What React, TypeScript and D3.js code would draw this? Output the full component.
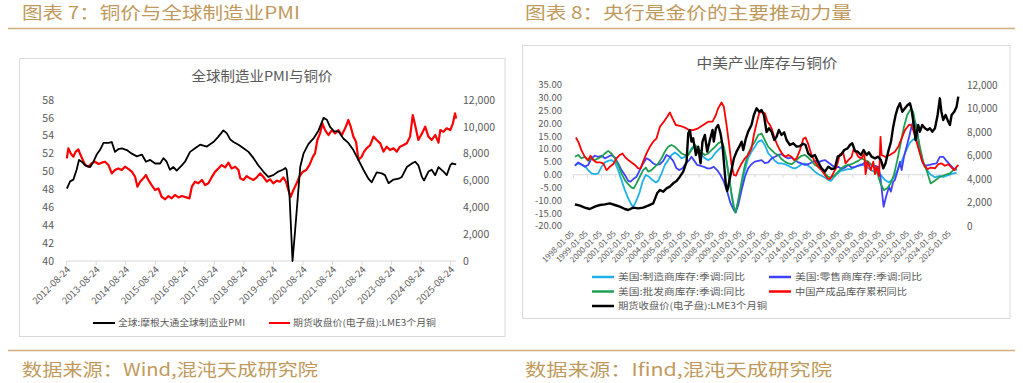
import React from "react";
import * as d3 from "d3";

// ---------- Chart 7 data (left) ----------
const leftTickLabels = ["2012-08-24","2013-08-24","2014-08-24","2015-08-24","2016-08-24","2017-08-24","2018-08-24","2019-08-24","2020-08-24","2021-08-24","2022-08-24","2023-08-24","2024-08-24","2025-08-24"];
const pmiTicks = [40,42,44,46,48,50,52,54,56,58];
const cuTicksL = [0,2000,4000,6000,8000,10000,12000];

const pmiYears = [2012.65,2012.76,2012.87,2012.98,2013.06,2013.15,2013.27,2013.44,2013.55,2013.66,2013.77,2013.89,2014.06,2014.17,2014.28,2014.39,2014.51,2014.68,2014.85,2015.02,2015.19,2015.33,2015.47,2015.64,2015.81,2015.92,2016.03,2016.14,2016.26,2016.37,2016.54,2016.65,2016.82,2016.99,2017.16,2017.39,2017.61,2017.78,2017.95,2018.06,2018.18,2018.29,2018.46,2018.63,2018.80,2018.97,2019.13,2019.30,2019.47,2019.64,2019.81,2019.96,2020.05,2020.09,2020.19,2020.29,2020.38,2020.47,2020.55,2020.66,2020.83,2021.00,2021.17,2021.34,2021.45,2021.56,2021.70,2021.84,2022.01,2022.18,2022.35,2022.52,2022.69,2022.86,2022.97,2023.14,2023.31,2023.42,2023.54,2023.71,2023.88,2023.99,2024.16,2024.33,2024.44,2024.55,2024.67,2024.74,2024.89,2025.00,2025.12,2025.23,2025.40,2025.51,2025.63,2025.68,2025.83];
const pmiValues = [48.1,48.9,49.1,50.2,51.3,51.1,50.7,50.5,51.1,51.9,52.4,53.2,53.2,53.3,52.2,52.5,52.6,52.4,52.0,51.7,51.9,51.1,51.3,50.9,50.9,51.5,51.1,50.2,50.5,50.1,50.7,51.1,52.2,52.6,53.0,52.8,53.3,53.9,54.6,54.3,53.6,53.3,53.0,52.6,52.2,51.5,50.7,50.0,49.4,49.6,50.0,50.2,50.4,50.2,47.2,40.0,43.5,47.2,50.5,52.0,53.1,53.7,54.6,56.0,55.8,55.0,54.5,54.5,53.7,53.2,52.4,51.3,50.2,49.2,48.8,49.9,49.8,49.6,48.7,49.1,49.2,49.4,50.5,50.9,51.1,50.7,49.4,49.0,50.0,50.2,49.6,50.5,50.0,49.6,50.7,50.9,50.8];

const cuYearsL = [2012.65,2012.70,2012.78,2012.87,2012.95,2013.04,2013.10,2013.19,2013.27,2013.38,2013.49,2013.60,2013.72,2013.83,2013.94,2014.06,2014.17,2014.28,2014.39,2014.51,2014.62,2014.73,2014.85,2014.96,2015.04,2015.13,2015.24,2015.33,2015.41,2015.52,2015.64,2015.75,2015.86,2015.98,2016.09,2016.20,2016.31,2016.43,2016.54,2016.69,2016.80,2016.88,2016.99,2017.10,2017.22,2017.33,2017.44,2017.55,2017.67,2017.78,2017.89,2018.01,2018.12,2018.23,2018.35,2018.46,2018.52,2018.63,2018.74,2018.85,2018.97,2019.08,2019.19,2019.30,2019.42,2019.53,2019.64,2019.76,2019.87,2019.98,2020.07,2020.15,2020.23,2020.32,2020.43,2020.52,2020.64,2020.75,2020.86,2020.98,2021.05,2021.13,2021.22,2021.30,2021.39,2021.51,2021.62,2021.73,2021.84,2021.96,2022.07,2022.18,2022.26,2022.35,2022.44,2022.52,2022.63,2022.71,2022.80,2022.92,2023.03,2023.14,2023.26,2023.37,2023.48,2023.59,2023.71,2023.82,2023.93,2024.05,2024.16,2024.27,2024.36,2024.44,2024.55,2024.67,2024.78,2024.89,2025.00,2025.12,2025.23,2025.29,2025.40,2025.51,2025.63,2025.72,2025.79,2025.83];
const cuValuesL = [7650,8400,8020,7775,8150,8320,7970,7525,7150,7030,7280,7400,7230,7330,7400,7150,6530,6780,6900,6780,7030,6860,6660,6280,5540,5910,6160,6410,6040,5660,5290,5410,4790,4600,4840,4670,4920,4740,4840,4740,4670,5540,5910,5790,6040,5660,5790,6230,6660,6900,7150,6980,7330,6900,7030,6780,6160,6040,6330,6160,6040,6230,6530,6280,5910,6090,5790,5990,5910,6230,5910,5290,4790,5290,5790,6280,6660,6780,7150,7775,8020,9020,9510,10260,9760,9390,9760,9510,9760,9390,9890,10510,10010,9270,8890,7530,7775,8150,8400,8640,9270,9020,8770,8150,8520,8270,8400,8150,8520,8640,8770,9270,10880,10130,9020,9510,10010,9270,9020,9390,8820,9760,9640,9890,9760,10260,11000,10630];

// ---------- Chart 8 data (right) ----------
const rightTickLabels = ["1998-01-05","1999-01-05","2000-01-05","2001-01-05","2002-01-05","2003-01-05","2004-01-05","2005-01-05","2006-01-05","2007-01-05","2008-01-05","2009-01-05","2010-01-05","2011-01-05","2012-01-05","2013-01-05","2014-01-05","2015-01-05","2016-01-05","2017-01-05","2018-01-05","2019-01-05","2020-01-05","2021-01-05","2022-01-05","2023-01-05","2024-01-05","2025-01-05"];
const pctTicks = [-20,-15,-10,-5,0,5,10,15,20,25,30,35];
const cuTicksR = [0,2000,4000,6000,8000,10000,12000];

const mfgYears = [1998.11,1998.35,1998.58,1998.82,1999.06,1999.30,1999.54,1999.78,2000.02,2000.26,2000.49,2000.73,2000.97,2001.21,2001.45,2001.69,2001.93,2002.17,2002.29,2002.48,2002.72,2002.96,2003.19,2003.43,2003.67,2003.91,2004.08,2004.32,2004.55,2004.79,2005.03,2005.27,2005.51,2005.75,2005.99,2006.23,2006.46,2006.70,2006.94,2007.18,2007.42,2007.66,2007.90,2008.14,2008.37,2008.61,2008.78,2008.97,2009.16,2009.33,2009.50,2009.62,2009.81,2010.05,2010.29,2010.52,2010.76,2011.00,2011.24,2011.48,2011.72,2011.96,2012.20,2012.44,2012.68,2012.91,2013.15,2013.39,2013.63,2013.87,2014.11,2014.35,2014.59,2014.82,2015.06,2015.30,2015.54,2015.78,2016.02,2016.26,2016.45,2016.69,2016.93,2017.16,2017.40,2017.64,2017.88,2018.12,2018.36,2018.60,2018.84,2019.07,2019.31,2019.55,2019.79,2020.03,2020.30,2020.60,2020.90,2021.20,2021.50,2021.80,2022.10,2022.40,2022.60,2022.80,2023.00,2023.30,2023.60,2023.90,2024.20,2024.50,2024.80,2025.10,2025.45];
const mfgValues = [3.8,4.4,3.8,3.5,1.8,0.5,0.2,0.5,3.1,4.8,5.4,5.7,4.8,1.8,-2.1,-6.0,-9.2,-11.8,-12.5,-10.5,-7.3,-2.7,-0.1,-0.8,-2.1,-3.0,-2.4,0.5,3.8,5.7,7.7,8.7,7.7,6.4,7.0,7.7,10.3,11.6,9.6,7.7,6.4,5.7,6.4,8.3,9.6,10.9,9.6,5.1,-1.4,-7.3,-12.5,-14.7,-10.5,-4.0,1.8,6.4,9.0,10.9,12.9,13.5,11.5,8.3,7.0,5.4,4.4,4.4,4.1,3.5,2.8,2.5,3.1,4.1,4.4,3.5,2.5,1.2,0.2,-0.4,-1.1,-2.1,-2.4,-0.8,0.5,1.5,1.8,2.2,2.2,2.8,3.5,4.1,3.5,2.8,1.8,1.2,0.5,-0.1,-2.0,-3.0,-1.5,1.5,5.0,9.0,12.5,14.0,13.0,9.0,5.0,2.0,0.0,-1.0,-0.5,-0.8,-0.3,0.3,0.8];

const retYears = [1998.11,1998.35,1998.58,1998.82,1999.06,1999.30,1999.54,1999.78,2000.02,2000.26,2000.49,2000.73,2000.97,2001.21,2001.45,2001.69,2001.93,2002.10,2002.29,2002.52,2002.76,2003.00,2003.24,2003.48,2003.72,2003.96,2004.20,2004.44,2004.67,2004.91,2005.15,2005.39,2005.58,2005.82,2006.06,2006.30,2006.46,2006.63,2006.87,2007.11,2007.35,2007.59,2007.82,2008.06,2008.30,2008.54,2008.78,2009.02,2009.26,2009.50,2009.62,2009.81,2010.05,2010.29,2010.52,2010.76,2011.00,2011.24,2011.48,2011.72,2011.96,2012.20,2012.44,2012.68,2012.91,2013.15,2013.39,2013.63,2013.87,2014.11,2014.35,2014.59,2014.82,2015.06,2015.30,2015.54,2015.78,2016.02,2016.26,2016.50,2016.73,2016.97,2017.21,2017.45,2017.69,2017.93,2018.17,2018.41,2018.64,2018.88,2019.12,2019.36,2019.60,2019.84,2019.98,2020.22,2020.43,2020.62,2020.74,2020.91,2021.03,2021.20,2021.39,2021.51,2021.68,2021.87,2022.06,2022.25,2022.40,2022.55,2022.70,2022.85,2023.00,2023.20,2023.54,2023.78,2024.01,2024.25,2024.49,2024.68,2024.92,2025.21,2025.45];
const retValues = [3.5,4.8,4.1,3.1,3.8,6.4,7.4,7.0,7.4,6.4,7.0,7.7,6.7,4.4,1.8,-0.1,-2.4,-2.7,-1.7,-0.8,1.8,4.4,6.4,5.7,4.4,3.8,4.1,5.4,7.7,7.0,5.4,2.5,1.8,2.5,4.4,5.7,7.0,5.7,3.8,3.5,3.1,2.5,2.5,3.1,1.8,-0.1,-2.7,-6.6,-11.2,-13.8,-14.7,-11.8,-6.0,-0.8,2.5,4.1,5.1,5.4,5.7,4.5,4.8,6.4,7.0,7.7,8.0,7.0,6.4,6.7,5.7,4.8,4.4,3.8,4.1,4.8,5.4,4.8,5.4,5.7,4.8,3.8,2.8,3.1,2.2,2.8,3.8,2.8,3.1,3.5,3.8,4.8,4.4,3.8,3.5,3.1,-0.1,-12.5,-7.9,-4.7,-6.6,-2.7,-2.1,1.2,5.1,1.8,7.0,11.0,15.0,19.5,21.3,19.5,14.0,8.5,5.0,3.5,3.8,4.2,4.4,7.0,7.0,5.7,4.2,2.5,1.8];

const wsYears = [1998.11,1998.35,1998.58,1998.82,1999.06,1999.30,1999.54,1999.78,2000.02,2000.26,2000.49,2000.73,2000.97,2001.21,2001.45,2001.69,2001.93,2002.17,2002.33,2002.52,2002.76,2003.00,2003.19,2003.36,2003.60,2003.84,2004.08,2004.32,2004.55,2004.79,2005.03,2005.27,2005.51,2005.75,2005.99,2006.23,2006.46,2006.70,2006.94,2007.18,2007.42,2007.66,2007.90,2008.14,2008.37,2008.61,2008.78,2008.97,2009.16,2009.33,2009.50,2009.62,2009.81,2010.05,2010.29,2010.52,2010.76,2011.00,2011.24,2011.48,2011.72,2011.96,2012.20,2012.44,2012.68,2012.91,2013.15,2013.39,2013.63,2013.87,2014.11,2014.35,2014.59,2014.82,2015.06,2015.30,2015.54,2015.78,2016.02,2016.26,2016.50,2016.73,2016.97,2017.21,2017.45,2017.69,2017.93,2018.17,2018.41,2018.64,2018.88,2019.12,2019.36,2019.60,2019.76,2020.00,2020.24,2020.48,2020.72,2020.96,2021.20,2021.44,2021.68,2021.91,2022.15,2022.34,2022.58,2022.82,2023.06,2023.30,2023.59,2023.90,2024.25,2024.61,2024.97,2025.21,2025.45];
const wsValues = [7.0,7.7,6.4,7.0,5.4,6.4,5.7,6.4,7.0,8.3,9.3,8.3,6.4,3.8,0.5,-2.1,-3.7,-5.0,-5.3,-3.4,-0.8,1.8,2.8,1.2,1.8,3.1,4.4,6.4,9.0,10.9,11.6,10.9,9.6,8.3,7.7,7.7,9.6,11.6,10.3,8.7,7.7,8.3,9.6,10.9,12.2,12.9,10.9,5.7,-1.4,-7.9,-13.1,-14.7,-9.9,-2.7,3.8,8.3,10.9,12.9,15.5,16.1,13.5,10.9,9.6,8.3,7.7,6.1,5.1,4.4,4.1,5.1,6.4,7.4,7.7,6.7,5.4,3.8,3.1,1.8,0.5,-0.8,-1.1,-0.1,1.2,2.5,3.5,3.8,4.1,4.8,5.4,6.4,5.7,5.1,3.8,2.8,1.0,-3.4,-6.0,-5.3,-3.4,-0.1,5.7,12.2,18.7,23.3,25.5,24.6,17.4,10.9,5.1,1.8,-3.4,-2.3,-0.8,-0.1,0.5,1.8,2.5];

const cnYears = [1998.18,1998.35,1998.58,1998.82,1999.06,1999.23,1999.42,1999.66,1999.90,2000.14,2000.38,2000.61,2000.85,2001.09,2001.33,2001.52,2001.69,2001.93,2002.17,2002.41,2002.64,2002.81,2003.00,2003.24,2003.48,2003.72,2003.96,2004.20,2004.48,2004.72,2004.91,2005.10,2005.34,2005.63,2005.99,2006.30,2006.58,2006.94,2007.30,2007.66,2007.97,2008.21,2008.37,2008.61,2008.78,2008.97,2009.16,2009.33,2009.50,2009.64,2009.81,2010.05,2010.29,2010.52,2010.76,2010.93,2011.12,2011.31,2011.48,2011.72,2011.91,2012.08,2012.20,2012.39,2012.56,2012.79,2013.03,2013.20,2013.39,2013.63,2013.82,2013.99,2014.23,2014.47,2014.63,2014.82,2015.06,2015.30,2015.54,2015.78,2016.02,2016.21,2016.38,2016.61,2016.85,2017.09,2017.33,2017.50,2017.69,2017.93,2018.05,2018.21,2018.41,2018.64,2018.84,2018.93,2019.07,2019.31,2019.48,2019.60,2019.72,2019.90,2020.00,2020.08,2020.32,2020.67,2021.03,2021.27,2021.51,2021.75,2022.04,2022.23,2022.42,2022.58,2022.75,2022.94,2023.13,2023.37,2023.61,2023.90,2024.14,2024.38,2024.61,2024.85,2025.09,2025.28,2025.45,2025.57];
const cnValues = [14.5,12.9,9.6,7.0,5.7,7.4,5.7,4.8,4.8,4.4,1.8,3.1,4.1,6.4,7.7,8.3,7.0,5.7,4.8,3.8,2.5,2.5,5.1,8.3,10.9,12.9,14.2,18.7,20.7,22.6,24.3,22.0,19.4,19.1,18.4,17.4,17.4,18.1,19.4,20.7,20.7,23.3,25.9,28.2,26.5,19.4,11.6,3.8,-0.1,-0.4,1.8,4.4,6.4,7.7,10.3,15.5,20.0,24.0,24.6,24.0,20.7,19.4,18.1,14.8,12.2,9.6,7.7,7.0,7.7,7.0,5.7,6.4,9.6,14.0,14.5,12.0,7.7,5.1,3.1,1.8,-0.1,-1.4,-1.7,0.5,3.1,8.0,8.5,4.4,5.7,7.0,9.6,9.0,7.0,6.4,8.3,0.2,5.1,1.8,5.1,0.2,3.1,-0.5,14.8,7.7,7.0,7.7,9.0,10.9,14.2,17.4,19.5,19.2,16.1,12.9,9.6,6.1,3.5,2.2,2.8,2.5,4.1,4.4,3.5,4.1,2.8,1.8,3.1,3.8];

const cuYearsR = [1998.11,1998.47,1998.82,1999.18,1999.54,1999.90,2000.26,2000.61,2000.97,2001.33,2001.69,2001.93,2002.29,2002.64,2003.00,2003.36,2003.72,2004.00,2004.20,2004.44,2004.67,2004.91,2005.15,2005.39,2005.63,2005.87,2006.11,2006.23,2006.35,2006.46,2006.58,2006.78,2006.94,2007.11,2007.25,2007.42,2007.59,2007.78,2007.97,2008.06,2008.21,2008.37,2008.54,2008.68,2008.80,2008.92,2009.02,2009.16,2009.33,2009.50,2009.69,2009.88,2010.05,2010.17,2010.36,2010.52,2010.76,2010.93,2011.12,2011.31,2011.48,2011.65,2011.84,2012.01,2012.20,2012.39,2012.56,2012.72,2012.91,2013.10,2013.27,2013.51,2013.75,2013.99,2014.23,2014.47,2014.63,2014.82,2015.06,2015.30,2015.54,2015.78,2016.02,2016.26,2016.50,2016.73,2016.93,2017.16,2017.40,2017.64,2017.81,2017.98,2018.17,2018.36,2018.60,2018.79,2019.00,2019.17,2019.36,2019.60,2019.84,2020.03,2020.20,2020.36,2020.55,2020.75,2020.91,2021.08,2021.22,2021.39,2021.56,2021.75,2021.94,2022.11,2022.23,2022.42,2022.51,2022.70,2022.82,2022.99,2023.18,2023.37,2023.54,2023.71,2023.90,2024.09,2024.25,2024.36,2024.49,2024.66,2024.85,2024.97,2025.09,2025.28,2025.45,2025.57];
const cuValuesR = [1844,1730,1560,1447,1645,1787,1844,1929,1787,1645,1447,1362,1560,1504,1560,1730,1929,2780,3064,2922,3206,3348,3631,3830,4199,4624,5475,7887,8171,7178,7461,6043,6752,5334,7178,7745,6327,7320,8171,7178,8313,8596,7887,6894,5192,3490,2979,3773,4766,5759,6327,6752,7178,6468,7461,8029,8596,9447,10015,9731,9873,9447,8000,8313,8029,7320,7603,8171,7745,7972,7320,6894,7036,6752,6800,7000,6894,6185,5901,6043,5419,4908,4624,5050,4851,4908,5901,6043,6468,6610,6894,7036,6383,6327,6043,6468,6043,6270,5901,5759,5901,5617,4908,5334,6327,7178,8454,9447,10015,10440,9731,10015,10298,10440,9873,8313,7320,8596,8029,8596,8313,8171,8313,8029,8313,9447,10866,9731,9022,9447,8880,8596,9447,9731,10157,11008];

// ---------- helpers ----------
const parseDate = d3.timeParse("%Y-%m-%d");
function yd(y: number): Date {
  const yr = Math.floor(y);
  const s = new Date(yr, 0, 1).getTime();
  const e = new Date(yr + 1, 0, 1).getTime();
  return new Date(s + (y - yr) * (e - s));
}
const FONT = "'Noto Sans CJK SC', 'Noto Sans', sans-serif";
const GOLD = "#bf9a5c";
const GOLD_LINE = "#cdb07a";
const AXIS_TXT = "#595959";
const fmtK = d3.format(",");

function LeftChart() {
  const tickDates = leftTickLabels.map((s) => parseDate(s) as Date);
  const x = d3.scaleTime().domain([tickDates[0], tickDates[tickDates.length - 1]]).range([66.7, 450.7]);
  const yP = d3.scaleLinear().domain([40, 58]).range([261, 100]);
  const yC = d3.scaleLinear().domain([0, 12000]).range([261, 100]);
  const pmiPts = pmiYears.map((t, i) => [t, pmiValues[i]] as [number, number]);
  const cuPts = cuYearsL.map((t, i) => [t, cuValuesL[i]] as [number, number]);
  const lp = d3.line<[number, number]>().x((d) => x(yd(d[0]))).y((d) => yP(d[1]));
  const lc = d3.line<[number, number]>().x((d) => x(yd(d[0]))).y((d) => yC(d[1]));
  const xEnd = x(yd(pmiYears[pmiYears.length - 1]));
  return (
    <g>
      <rect x={19.5} y={58.5} width={485.5} height={278} fill="#fff" stroke="#d9d9d9" strokeWidth={1} />
      <text x={262} y={81} textAnchor="middle" fontSize={13.5} fill={AXIS_TXT} fontFamily={FONT} textLength={141} lengthAdjust="spacingAndGlyphs">全球制造业PMI与铜价</text>
      {pmiTicks.map((v) => (
        <text key={"p" + v} x={54} y={yP(v)} dy="0.35em" textAnchor="end" fontSize={10.5} fill={AXIS_TXT} fontFamily={FONT}>{v}</text>
      ))}
      {cuTicksL.map((v) => (
        <text key={"c" + v} x={463} y={yC(v)} dy="0.35em" textAnchor="start" fontSize={10.5} fill={AXIS_TXT} fontFamily={FONT}>{fmtK(v)}</text>
      ))}
      <line x1={66.7} x2={xEnd} y1={261} y2={261} stroke="#d9d9d9" strokeWidth={1} />
      {tickDates.map((d, i) => (
        <g key={"t" + i}>
          <line x1={x(d)} x2={x(d)} y1={261} y2={265} stroke="#d9d9d9" />
          <text transform={`translate(${x(d) + 2},${268}) rotate(-45)`} textAnchor="end" dy="0.35em" fontSize={9.5} fill={AXIS_TXT} fontFamily={FONT}>{leftTickLabels[i]}</text>
        </g>
      ))}
      <path d={lc(cuPts) || ""} fill="none" stroke="#ff0000" strokeWidth={2.2} strokeLinejoin="round" />
      <path d={lp(pmiPts) || ""} fill="none" stroke="#000" strokeWidth={1.8} strokeLinejoin="round" />
      <line x1={93} x2={115} y1={323} y2={323} stroke="#000" strokeWidth={2} />
      <text x={118} y={323} dy="0.35em" fontSize={9} fill={AXIS_TXT} fontFamily={FONT} textLength={127} lengthAdjust="spacingAndGlyphs">全球:摩根大通全球制造业PMI</text>
      <line x1={269} x2={290} y1={323} y2={323} stroke="#ff0000" strokeWidth={2} />
      <text x={293} y={323} dy="0.35em" fontSize={9} fill={AXIS_TXT} fontFamily={FONT} textLength={143} lengthAdjust="spacingAndGlyphs">期货收盘价(电子盘):LME3个月铜</text>
    </g>
  );
}

function RightChart() {
  const tickDates = rightTickLabels.map((s) => parseDate(s) as Date);
  const x = d3.scaleTime().domain([tickDates[0], tickDates[tickDates.length - 1]]).range([573.5, 950.5]);
  const yL = d3.scaleLinear().domain([-20, 35]).range([226, 85]);
  const yR = d3.scaleLinear().domain([0, 12000]).range([226, 85]);
  const mk = (ys: number[], vs: number[]) => ys.map((t, i) => [t, vs[i]] as [number, number]);
  const l = d3.line<[number, number]>().x((d) => x(yd(d[0]))).y((d) => yL(d[1]));
  const lr = d3.line<[number, number]>().x((d) => x(yd(d[0]))).y((d) => yR(d[1]));
  const xEnd = x(yd(2025.6));
  const series = [
    { ys: mfgYears, vs: mfgValues, c: "#1fb2ea" },
    { ys: retYears, vs: retValues, c: "#4040ff" },
    { ys: wsYears, vs: wsValues, c: "#1ea04e" },
    { ys: cnYears, vs: cnValues, c: "#ff0000" },
  ];
  const legend = [
    { t: "美国:制造商库存:季调:同比", c: "#1fb2ea", lx: 592, ly: 277, w: 127 },
    { t: "美国:零售商库存:季调:同比", c: "#4040ff", lx: 769, ly: 277, w: 127 },
    { t: "美国:批发商库存:季调:同比", c: "#1ea04e", lx: 592, ly: 291.5, w: 127 },
    { t: "中国产成品库存累积同比", c: "#ff0000", lx: 769, ly: 291.5, w: 112 },
    { t: "期货收盘价(电子盘):LME3个月铜", c: "#000", lx: 592, ly: 306, w: 149 },
  ];
  return (
    <g>
      <rect x={522.5} y={45.5} width={487.5} height={273} fill="#fff" stroke="#d9d9d9" strokeWidth={1} />
      <text x={767} y={68} textAnchor="middle" fontSize={13.5} fill={AXIS_TXT} fontFamily={FONT} textLength={141} lengthAdjust="spacingAndGlyphs">中美产业库存与铜价</text>
      {pctTicks.map((v) => (
        <text key={"p" + v} x={562} y={yL(v)} dy="0.35em" textAnchor="end" fontSize={9.5} fill={AXIS_TXT} fontFamily={FONT}>{v.toFixed(2)}</text>
      ))}
      {cuTicksR.map((v) => (
        <text key={"c" + v} x={967} y={yR(v)} dy="0.35em" textAnchor="start" fontSize={10} fill={AXIS_TXT} fontFamily={FONT}>{fmtK(v)}</text>
      ))}
      <line x1={573.5} x2={xEnd} y1={yL(0)} y2={yL(0)} stroke="#d9d9d9" strokeWidth={1} />
      {tickDates.map((d, i) => (
        <g key={"t" + i}>
          <line x1={x(d)} x2={x(d)} y1={yL(0)} y2={yL(0) + 3} stroke="#d9d9d9" />
          <text transform={`translate(${x(d) - 1},${232}) rotate(-45)`} textAnchor="end" dy="0.35em" fontSize={8} fill={AXIS_TXT} fontFamily={FONT}>{rightTickLabels[i]}</text>
        </g>
      ))}
      {series.map((s, i) => (
        <path key={"s" + i} d={l(mk(s.ys, s.vs)) || ""} fill="none" stroke={s.c} strokeWidth={1.8} strokeLinejoin="round" />
      ))}
      <path d={lr(mk(cuYearsR, cuValuesR)) || ""} fill="none" stroke="#000" strokeWidth={2.4} strokeLinejoin="round" />
      {legend.map((g, i) => (
        <g key={"lg" + i}>
          <line x1={g.lx} x2={g.lx + 22} y1={g.ly} y2={g.ly} stroke={g.c} strokeWidth={2.5} />
          <text x={g.lx + 26} y={g.ly} dy="0.35em" fontSize={9} fill={AXIS_TXT} fontFamily={FONT} textLength={g.w} lengthAdjust="spacingAndGlyphs">{g.t}</text>
        </g>
      ))}
    </g>
  );
}

export default function App() {
  return (
    <svg width={1023} height={383} viewBox="0 0 1023 383" style={{ position: "absolute", left: 0, top: 0, background: "#fff" }}>
      <rect x={0} y={0} width={1023} height={383} fill="#fff" />
      <text x={22} y={19} fontSize={17} fill={GOLD} fontFamily={FONT} textLength={278} lengthAdjust="spacingAndGlyphs">图表 7：铜价与全球制造业PMI</text>
      <text x={525} y={19} fontSize={17} fill={GOLD} fontFamily={FONT} textLength={327} lengthAdjust="spacingAndGlyphs">图表 8：央行是金价的主要推动力量</text>
      <line x1={8} x2={1015} y1={28.5} y2={28.5} stroke={GOLD_LINE} strokeWidth={1.5} />
      <LeftChart />
      <RightChart />
      <line x1={8} x2={1015} y1={350.5} y2={350.5} stroke={GOLD_LINE} strokeWidth={1.5} />
      <text x={22} y={376} fontSize={17} fill={GOLD} fontFamily={FONT} textLength={296} lengthAdjust="spacingAndGlyphs">数据来源：Wind,混沌天成研究院</text>
      <text x={525} y={376} fontSize={17} fill={GOLD} fontFamily={FONT} textLength={307} lengthAdjust="spacingAndGlyphs">数据来源：Ifind,混沌天成研究院</text>
    </svg>
  );
}
